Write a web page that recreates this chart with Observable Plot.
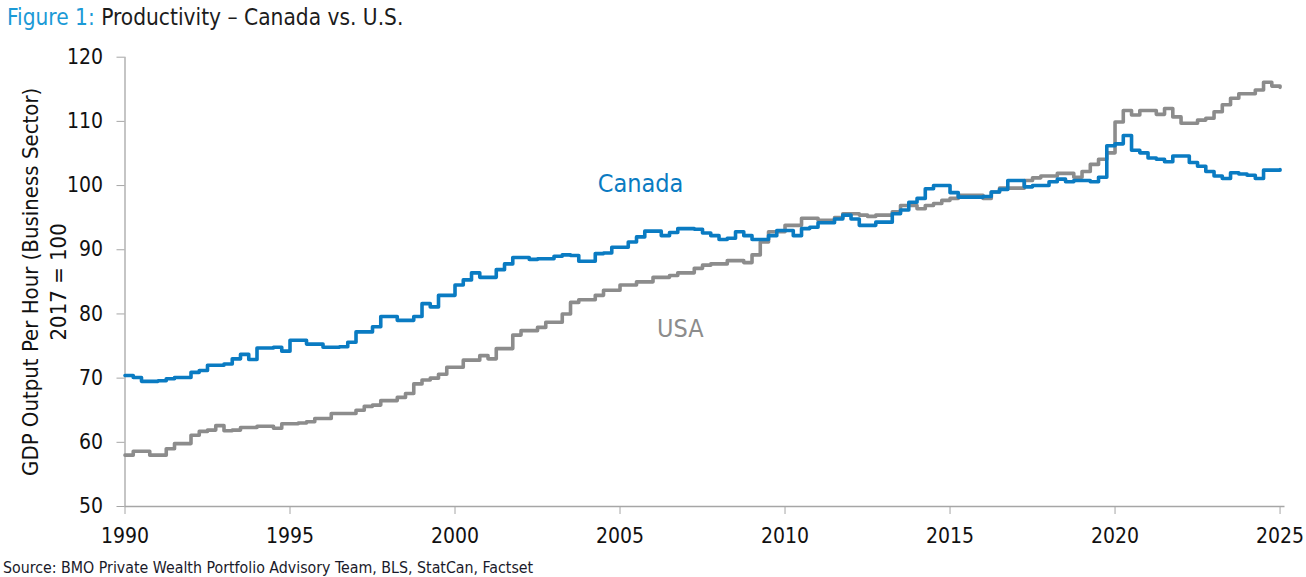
<!DOCTYPE html>
<html><head><meta charset="utf-8">
<script src="https://cdn.jsdelivr.net/npm/d3@7"></script>
<script src="https://cdn.jsdelivr.net/npm/@observablehq/plot@0.6"></script>
<style>
body{margin:0;background:#fff;font-family:"DejaVu Sans Condensed","DejaVu Sans",sans-serif;}
#title{height:36px;font-size:22.5px;padding-left:7px;line-height:34px;color:#1c1c1c;white-space:nowrap;}
#title .fig{color:#1b9ad6;}
#source{font-size:15.8px;color:#1a1a2a;padding-left:3px;line-height:24px;white-space:nowrap;}
</style></head><body>
<div id="title"><span class="fig">Figure 1:</span> Productivity – Canada vs. U.S.</div>
<div id="chart"></div>
<div id="source">Source: BMO Private Wealth Portfolio Advisory Team, BLS, StatCan, Factset</div>
<script>
// Quarterly index (2017 = 100), 1990 Q1 ... 2025 Q1
const startYear = 1990;
const canada = [
  70.4, 70.1, 69.5, 69.5,
  69.6, 69.9, 70.1, 70.1,
  70.9, 71.2, 72.0, 72.0,
  72.2, 73.0, 73.7, 72.9,
  74.7, 74.7, 74.8, 74.2,
  75.9, 75.9, 75.3, 75.3,
  74.8, 74.8, 74.9, 75.6,
  77.2, 77.2, 78.0, 79.6,
  79.6, 79.0, 79.0, 79.6,
  81.6, 81.1, 82.9, 82.9,
  84.5, 85.3, 86.4, 85.7,
  85.7, 86.9, 87.8, 88.8,
  88.8, 88.5, 88.6, 88.6,
  89.0, 89.2, 89.1, 88.2,
  88.2, 89.4, 89.5, 90.4,
  90.4, 91.2, 92.0, 92.9,
  92.9, 92.2, 92.7, 93.3,
  93.3, 93.2, 92.6, 92.2,
  91.6, 91.8, 92.8, 92.2,
  91.6, 91.6, 92.2, 93.0,
  93.0, 92.2, 93.3, 93.5,
  94.2, 94.2, 94.8, 95.4,
  94.8, 93.8, 93.8, 94.3,
  94.3, 95.6, 96.2, 97.4,
  98.0, 99.5, 100.0, 100.0,
  98.9, 98.2, 98.2, 98.2,
  98.3, 99.0, 99.4, 100.8,
  100.8, 99.8, 100.0, 100.0,
  100.6, 101.0, 100.6, 100.8,
  100.8, 100.6, 101.3, 106.2,
  106.5, 107.8, 105.5, 105.1,
  104.3, 104.1, 103.7, 104.6,
  104.6, 103.6, 103.0, 102.2,
  101.5, 101.1, 102.0, 101.8,
  101.6, 101.1, 102.4, 102.4,
  102.5
];
const usa = [
  58.0, 58.6, 58.6, 58.0,
  58.0, 59.0, 59.8, 59.8,
  61.1, 61.7, 61.9, 62.6,
  61.8, 61.9, 62.3, 62.3,
  62.5, 62.5, 62.2, 62.9,
  62.9, 63.0, 63.2, 63.7,
  63.7, 64.5, 64.5, 64.5,
  65.0, 65.6, 65.8, 66.5,
  66.5, 67.0, 67.6, 69.1,
  69.7, 70.0, 70.6, 71.7,
  71.7, 72.8, 72.8, 73.5,
  73.0, 74.6, 74.6, 76.7,
  77.4, 77.4, 77.9, 78.7,
  78.7, 80.0, 81.8, 82.2,
  82.2, 82.9, 83.7, 83.7,
  84.5, 84.5, 85.0, 85.0,
  85.7, 85.7, 86.0, 86.4,
  86.4, 87.1, 87.6, 87.8,
  87.8, 88.3, 88.3, 88.0,
  89.2, 91.2, 92.8, 92.8,
  93.8, 93.8, 94.9, 94.9,
  94.6, 94.6, 95.0, 95.6,
  95.6, 95.4, 95.2, 95.4,
  95.4, 95.9, 96.9, 96.9,
  96.4, 96.9, 97.2, 97.7,
  98.0, 98.5, 98.5, 98.5,
  98.0, 99.0, 99.6, 99.6,
  99.6, 100.8, 101.2, 101.5,
  101.5, 101.9, 101.9, 101.3,
  102.2, 103.3, 104.1, 105.1,
  109.9, 111.7, 111.0, 111.7,
  111.7, 111.1, 112.0, 110.7,
  109.7, 109.7, 110.2, 110.5,
  111.5, 112.6, 113.6, 114.3,
  114.3, 114.9, 116.1, 115.5,
  115.3
];
const xTicks = [1990, 1995, 2000, 2005, 2010, 2015, 2020, 2025];
const yTicks = [50, 60, 70, 80, 90, 100, 110, 120];
const seriesLabels = [
  {name: "Canada", year: 2005.62, value: 100.3, color: "#0a7bc2"},
  {name: "USA", year: 2006.83, value: 77.6, color: "#8c8c8c"}
];
const yTitle = "GDP Output Per Hour (Business Sector)\n2017 = 100";

const rows = canada.map((v, i) => ({t: startYear + i / 4, canada: v, usa: usa[i]}));
const FONT = '"DejaVu Sans Condensed","DejaVu Sans",sans-serif';
const axisColor = "#a6a6a6";

const chart = Plot.plot({
  width: 1306,
  height: 520,
  marginTop: 20.7,
  marginBottom: 50,
  marginLeft: 124.5,
  marginRight: 21.5,
  style: {fontFamily: FONT, fontSize: "21px", color: "#1a1a1a", background: "#fff", overflow: "visible"},
  x: {domain: [1990, 2025.15]},
  y: {domain: [50, 120]},
  marks: [
    Plot.ruleY([50], {stroke: axisColor, strokeWidth: 1.3}),
    Plot.ruleX([1990], {y1: 50, y2: 120, stroke: axisColor, strokeWidth: 1.3}),
    Plot.axisX({ticks: xTicks, tickFormat: "d", tickSize: 8, tickPadding: 14, stroke: axisColor, fill: "#111", fontSize: 21, label: null}),
    Plot.axisY({ticks: yTicks, tickSize: 8, tickPadding: 14, stroke: axisColor, fill: "#111", fontSize: 21, label: null}),
    Plot.line(rows, {x: "t", y: "usa", stroke: "#8c8c8c", strokeWidth: 3.6, curve: "step-after", strokeLinejoin: "round"}),
    Plot.line(rows, {x: "t", y: "canada", stroke: "#0a7bc2", strokeWidth: 3.6, curve: "step-after", strokeLinejoin: "round"}),
    Plot.text(seriesLabels, {x: "year", y: "value", text: "name", fill: "color", fontSize: 25, fontWeight: 500}),
    Plot.text([yTitle], {frameAnchor: "left", rotate: -90, dx: -81.5, fontSize: 22, lineHeight: 1.27, textAnchor: "middle", lineAnchor: "middle", fill: "#111"})
  ]
});
document.getElementById("chart").appendChild(chart);
</script>
</body></html>
